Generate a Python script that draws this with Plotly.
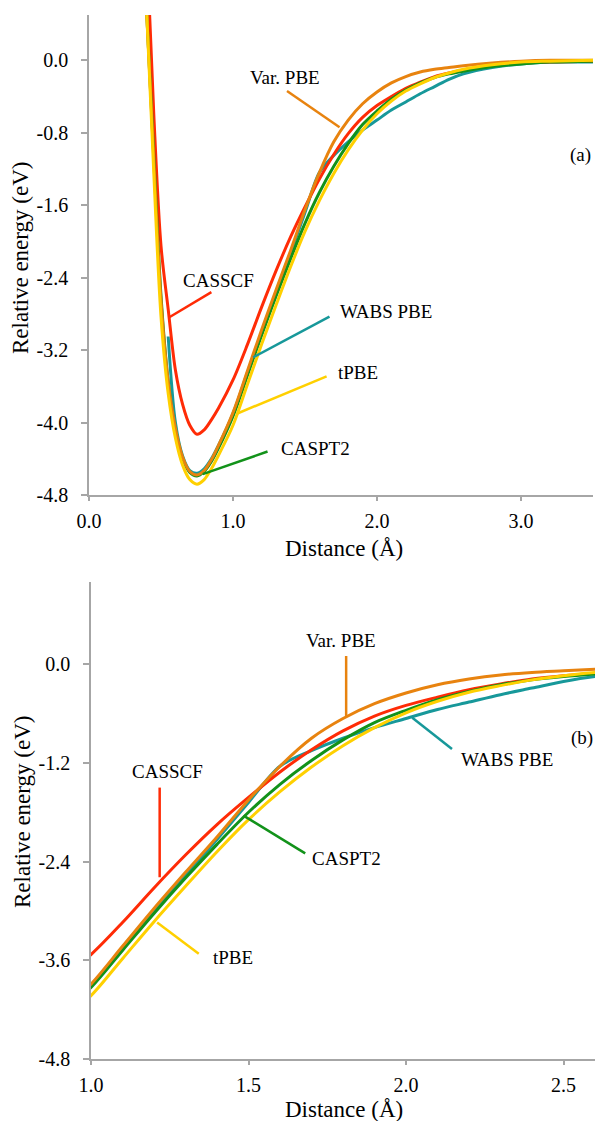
import plotly.graph_objects as go

# ---------------- data ----------------
DIST = [0.40, 0.45, 0.50, 0.55, 0.60, 0.65, 0.70, 0.75, 0.80, 0.85, 0.90,
        1.0, 1.1, 1.2, 1.3, 1.4, 1.5, 1.6, 1.7, 1.8, 1.9, 2.0, 2.1, 2.2,
        2.3, 2.4, 2.5, 2.6, 2.8, 3.0, 3.2, 3.5]

CASSCF = [1.3, -0.6, -2.05, -2.75, -3.42, -3.80, -4.03, -4.13, -4.08, -3.97, -3.84,
          -3.53, -3.14, -2.72, -2.32, -1.95, -1.62, -1.31, -1.04, -0.81, -0.63, -0.50,
          -0.40, -0.31, -0.24, -0.18, -0.14, -0.11, -0.06, -0.03, -0.02, -0.01]

WABS_PBE = [None, None, None, -3.05, -4.00, -4.37, -4.53, -4.56, -4.51, -4.40, -4.25,
            -3.90, -3.45, -3.00, -2.56, -2.13, -1.68, -1.24, -1.05, -0.90, -0.77, -0.66,
            -0.55, -0.46, -0.37, -0.29, -0.21, -0.15, -0.08, -0.04, -0.02, -0.02]

CASPT2 = [0.55, -1.05, -2.60, -3.55, -4.08, -4.40, -4.55, -4.59, -4.54, -4.43, -4.28,
          -3.93, -3.48, -3.03, -2.60, -2.19, -1.80, -1.46, -1.17, -0.92, -0.71, -0.56,
          -0.43, -0.33, -0.25, -0.19, -0.15, -0.12, -0.07, -0.04, -0.02, -0.01]

VAR_PBE = [0.55, -1.10, -2.65, -3.55, -4.06, -4.38, -4.54, -4.58, -4.53, -4.41, -4.25,
           -3.89, -3.43, -2.97, -2.53, -2.10, -1.65, -1.24, -0.90, -0.66, -0.48, -0.35,
           -0.25, -0.18, -0.13, -0.10, -0.08, -0.06, -0.03, -0.01, 0.0, 0.0]

TPBE = [0.55, -1.25, -2.83, -3.68, -4.17, -4.47, -4.63, -4.68, -4.63, -4.51, -4.36,
        -4.03, -3.58, -3.13, -2.70, -2.28, -1.89, -1.55, -1.25, -0.99, -0.77, -0.59,
        -0.45, -0.34, -0.26, -0.19, -0.14, -0.10, -0.05, -0.02, -0.01, 0.0]

SERIES_NAMES = ["WABS PBE", "CASSCF", "CASPT2", "Var. PBE", "tPBE"]
SERIES_VALUES = [WABS_PBE, CASSCF, CASPT2, VAR_PBE, TPBE]
SERIES_COLORS = ["#17989a", "#ff2b06", "#12921a", "#e8830f", "#ffd000"]

# tick labels
A_XTICKS = [0.0, 1.0, 2.0, 3.0]
A_XTEXT = ["0.0", "1.0", "2.0", "3.0"]
A_YTICKS = [0.0, -0.8, -1.6, -2.4, -3.2, -4.0, -4.8]
A_YTEXT = ["0.0", "-0.8", "-1.6", "-2.4", "-3.2", "-4.0", "-4.8"]
B_XTICKS = [1.0, 1.5, 2.0, 2.5]
B_XTEXT = ["1.0", "1.5", "2.0", "2.5"]
B_YTICKS = [0.0, -1.2, -2.4, -3.6, -4.8]
B_YTEXT = ["0.0", "-1.2", "-2.4", "-3.6", "-4.8"]

# label annotations: (text, x, y, color of leader, leader x0, y0, x1, y1)
A_LABELS = [
    ("Var. PBE", 1.36, -0.19, "#e8830f", 1.375, -0.34, 1.74, -0.74),
    ("CASSCF", 0.90, -2.43, "#ff2b06", 0.85, -2.56, 0.555, -2.84),
    ("WABS PBE", 2.06, -2.77, "#17989a", 1.67, -2.83, 1.14, -3.28),
    ("tPBE", 1.87, -3.45, "#ffd000", 1.65, -3.49, 1.03, -3.90),
    ("CASPT2", 1.57, -4.29, "#12921a", 1.24, -4.32, 0.79, -4.57),
]
B_LABELS = [
    ("Var. PBE", 1.794, 0.29, "#e8830f", 1.81, 0.10, 1.81, -0.63),
    ("WABS PBE", 2.32, -1.16, "#17989a", 2.146, -1.03, 2.02, -0.65),
    ("CASPT2", 1.81, -2.36, "#12921a", 1.68, -2.30, 1.484, -1.84),
    ("tPBE", 1.45, -3.56, "#ffd000", 1.342, -3.52, 1.21, -3.14),
    ("CASSCF", 1.244, -1.31, "#ff2b06", 1.218, -1.50, 1.218, -2.59),
]

W, H = 611, 1121
SERIF = "Liberation Serif, Times New Roman, serif"
AXIS_GREY = "#a6a6a6"

fig = go.Figure()
for name, vals, col in zip(SERIES_NAMES, SERIES_VALUES, SERIES_COLORS):
    for xa, ya in (("x", "y"), ("x2", "y2")):
        fig.add_trace(go.Scatter(
            x=DIST, y=vals, mode="lines", name=name, xaxis=xa, yaxis=ya,
            line=dict(color=col, width=3, shape="spline", smoothing=0.9),
            showlegend=False, hoverinfo="skip"))

shapes = []
annotations = []
for labels, xr, yr in ((A_LABELS, "x", "y"), (B_LABELS, "x2", "y2")):
    for text, tx, ty, col, x0, y0, x1, y1 in labels:
        annotations.append(dict(text=text, x=tx, y=ty, xref=xr, yref=yr,
                                showarrow=False, xanchor="center", yanchor="middle",
                                font=dict(family=SERIF, size=19, color="black")))
        shapes.append(dict(type="line", xref=xr, yref=yr, x0=x0, y0=y0, x1=x1, y1=y1,
                           line=dict(color=col, width=2.5)))

annotations.append(dict(text="(a)", x=3.5, y=-1.05, xref="x", yref="y", showarrow=False,
                        xanchor="right", yanchor="middle",
                        font=dict(family=SERIF, size=19, color="black")))
annotations.append(dict(text="(b)", x=2.6, y=-0.90, xref="x2", yref="y2", showarrow=False,
                        xanchor="right", yanchor="middle",
                        font=dict(family=SERIF, size=19, color="black")))

# axis titles (paper coordinates)
def px(xp):
    return xp / W

def py(yp):
    return 1 - yp / H

for text, xp, yp, ang in (("Relative energy (eV)", 21, 258, -90),
                          ("Distance (Å)", 344, 548, 0),
                          ("Relative energy (eV)", 22, 812, -90),
                          ("Distance (Å)", 344, 1109, 0)):
    annotations.append(dict(text=text, x=px(xp), y=py(yp), xref="paper", yref="paper",
                            showarrow=False, xanchor="center", yanchor="middle",
                            textangle=ang, font=dict(family=SERIF, size=23, color="black")))

tickfont = dict(family=SERIF, size=20, color="black")
common_x = dict(showline=True, linecolor=AXIS_GREY, linewidth=1.5, showgrid=False,
                zeroline=False, ticks="outside", ticklen=4, tickcolor=AXIS_GREY,
                tickwidth=1.5, tickfont=tickfont, ticklabelstandoff=3, automargin=False)
common_y = dict(showline=True, linecolor=AXIS_GREY, linewidth=1.5, showgrid=False,
                zeroline=False, ticks="outside", ticklen=6, tickcolor=AXIS_GREY,
                tickwidth=1.5, tickfont=tickfont, ticklabelstandoff=9, automargin=False)

fig.update_layout(
    width=W, height=H, margin=dict(l=0, r=0, t=0, b=0, autoexpand=False),
    paper_bgcolor="white", plot_bgcolor="white",
    xaxis=dict(domain=[px(89), px(593)], range=[0, 3.5], anchor="y",
               tickvals=A_XTICKS, ticktext=A_XTEXT, **common_x),
    yaxis=dict(domain=[py(495), py(15)], range=[-4.8, 0.5], anchor="x",
               tickvals=A_YTICKS, ticktext=A_YTEXT, **common_y),
    xaxis2=dict(domain=[px(91), px(595)], range=[1.0, 2.6], anchor="y2",
                tickvals=B_XTICKS, ticktext=B_XTEXT, **common_x),
    yaxis2=dict(domain=[py(1059), py(582)], range=[-4.8, 1.0], anchor="x2",
                tickvals=B_YTICKS, ticktext=B_YTEXT, **common_y),
    shapes=shapes, annotations=annotations, showlegend=False,
)

fig.write_html("out.html", config={"displayModeBar": False},
               post_script="document.body.style.margin='0';document.body.style.overflow='hidden';")
